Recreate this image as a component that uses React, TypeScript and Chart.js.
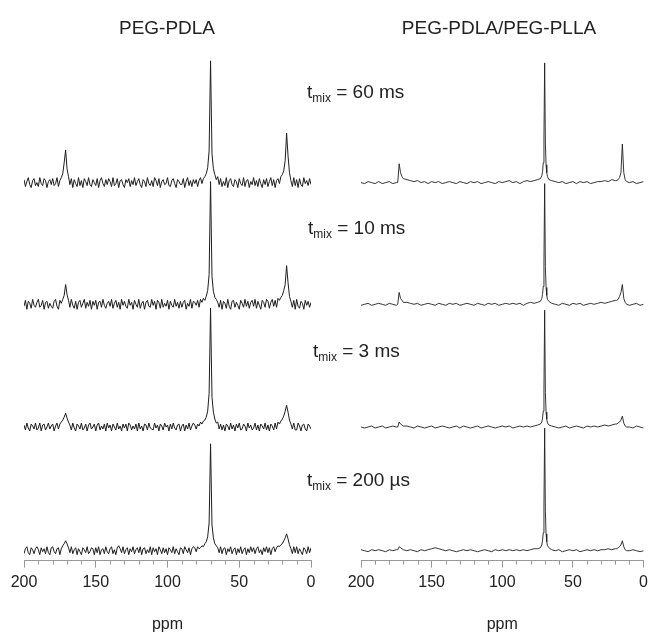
import React, { useEffect, useRef } from "react";
import { Chart, registerables } from "chart.js";

Chart.register(...registerables);

// ---------- DATA ----------
const panelTitles = ["PEG-PDLA", "PEG-PDLA/PEG-PLLA"];
const tmixLabels = ["60 ms", "10 ms", "3 ms", "200 \u00b5s"];
const majorTickValues = [200, 150, 100, 50, 0];
const minorTickValues = [190, 180, 170, 160, 140, 130, 120, 110, 90, 80, 70, 60, 40, 30, 20, 10];

// PEG-PDLA: sampled every 1 ppm, 200 -> 0
const ppmGridPdla = [
  200, 199, 198, 197, 196, 195, 194, 193, 192, 191,
  190, 189, 188, 187, 186, 185, 184, 183, 182, 181,
  180, 179, 178, 177, 176, 175, 174, 173, 172, 171,
  170, 169, 168, 167, 166, 165, 164, 163, 162, 161,
  160, 159, 158, 157, 156, 155, 154, 153, 152, 151,
  150, 149, 148, 147, 146, 145, 144, 143, 142, 141,
  140, 139, 138, 137, 136, 135, 134, 133, 132, 131,
  130, 129, 128, 127, 126, 125, 124, 123, 122, 121,
  120, 119, 118, 117, 116, 115, 114, 113, 112, 111,
  110, 109, 108, 107, 106, 105, 104, 103, 102, 101,
  100, 99, 98, 97, 96, 95, 94, 93, 92, 91,
  90, 89, 88, 87, 86, 85, 84, 83, 82, 81,
  80, 79, 78, 77, 76, 75, 74, 73, 72, 71,
  70, 69, 68, 67, 66, 65, 64, 63, 62, 61,
  60, 59, 58, 57, 56, 55, 54, 53, 52, 51,
  50, 49, 48, 47, 46, 45, 44, 43, 42, 41,
  40, 39, 38, 37, 36, 35, 34, 33, 32, 31,
  30, 29, 28, 27, 26, 25, 24, 23, 22, 21,
  20, 19, 18, 17, 16, 15, 14, 13, 12, 11,
  10, 9, 8, 7, 6, 5, 4, 3, 2, 1,
  0,
];

const pdla60 = [
  3, -4, 1, 5, -2, -5, 2, 4, -3, 0,
  -4, 5, -1, -3, 4, 2, -5, 1, 3, -2,
  4, -3, -1, 5, -4, 2, 5, 9, 20, 33,
  14, 6, -2, 4, -5, 3, -1, -4, 5, -3,
  2, -5, 4, 1, -3, 5, -2, -4, 3, 0,
  -3, 4, -5, 2, 5, -1, -4, 3, -2, 4,
  1, -4, 5, -3, -1, 4, -5, 2, 3, -2,
  -5, 3, 0, 4, -4, 2, -2, 5, -3, 1,
  4, -2, -5, 3, 1, -4, 5, -1, -3, 2,
  -4, 5, 2, -3, 4, -5, 1, 3, -2, -1,
  5, -3, -4, 2, 4, -1, -5, 3, 1, -2,
  -2, 4, -5, 1, 5, -3, 2, -4, 3, -1,
  3, -4, 2, 5, -1, 4, 6, 9, 15, 32,
  123, 29, 14, 8, 3, 6, -2, 4, -4, 1,
  -3, 5, -5, 2, 4, -2, -4, 3, 1, -5,
  4, -1, -3, 5, -4, 2, 3, -5, 1, -2,
  5, -3, 2, -4, 4, -1, -5, 3, -2, 4,
  -4, 1, 5, -3, 3, -5, 2, 4, -1, 6,
  8, 12, 22, 50, 27, 10, 2, -4, 5, -3,
  3, -5, 4, -2, -4, 5, -1, 2, -3, 4,
  -2,
];
const pdla10 = [
  -2, 4, -5, 3, 1, -4, 5, -1, -3, 2,
  5, -3, -1, 4, -5, 2, 3, -4, 1, -2,
  -4, 3, 5, -2, -5, 4, 1, 5, 9, 20,
  10, 4, -3, 5, -1, -4, 3, -5, 2, 4,
  -3, 1, 5, -4, 2, -2, 4, -5, 3, -1,
  4, -5, 2, 3, -3, 5, -1, -4, 1, 3,
  -2, 5, -4, 1, 4, -3, 2, -5, 5, -1,
  3, -2, -4, 5, -1, 2, -5, 4, 0, -3,
  5, -4, 1, 3, -5, 2, 4, -2, -3, 5,
  -1, 3, -5, 4, 2, -4, 5, -3, 1, -2,
  4, -5, 3, -1, -3, 5, -2, 2, -4, 3,
  -3, 2, 4, -5, 1, -2, 5, -4, 3, 2,
  -1, 4, -3, 5, 2, 6, 4, 8, 14, 30,
  124, 28, 13, 7, 5, 2, -3, 4, -5, 3,
  1, -4, 5, -2, -5, 3, 4, -3, 2, -1,
  -5, 4, 1, -3, 5, -2, 3, -4, 2, 4,
  -2, 5, -4, 3, -1, -5, 4, 2, -3, 5,
  3, -4, 2, 5, -2, 4, -3, 6, 4, 7,
  9, 14, 20, 39, 22, 8, 3, -3, 4, -5,
  5, -2, -4, 3, 1, -5, 4, -1, 3, -3,
  2,
];
const pdla3 = [
  2, -3, 4, -1, -4, 3, 1, -2, 4, -3,
  -1, 4, -4, 2, 3, -3, 0, 4, -2, 1,
  3, -4, 1, 4, -2, 3, 5, 7, 10, 14,
  9, 5, 2, -3, 4, -1, -4, 3, 1, -2,
  4, -3, -1, 3, -4, 2, 4, -2, 0, 3,
  -4, 2, 4, -3, 1, -2, 3, -4, 4, -1,
  2, -4, 3, 0, -3, 4, -2, 1, -4, 3,
  -1, 3, -4, 4, 2, -3, 1, -2, 3, -4,
  4, -2, 1, -4, 3, 2, -3, 4, -1, -2,
  -3, 4, -1, 2, -4, 3, 1, -3, 4, 0,
  2, -4, 3, -2, 4, -1, -3, 2, 3, -4,
  1, 3, -4, 2, -2, 4, -3, 1, 4, 2,
  -2, 3, 1, 5, 3, 6, 7, 10, 16, 34,
  120, 30, 15, 8, 4, 5, -2, 3, -3, 2,
  -4, 3, 1, -3, 4, -2, 2, -4, 3, -1,
  4, -3, -2, 3, 1, -4, 4, -1, 2, -3,
  -1, 4, -3, 2, -4, 3, 1, -2, 4, -3,
  2, -4, 3, 1, -3, 4, -2, 5, 3, 6,
  8, 11, 16, 22, 15, 7, 3, -2, 4, -3,
  -3, 4, 1, -4, 2, 3, -2, -4, 3, 1,
  -2,
];
const pdla200us = [
  -3, 2, 4, -2, -4, 3, 1, -3, 2, 4,
  1, -4, 3, -1, 2, -3, 4, -2, -4, 3,
  4, -1, -3, 2, 3, -4, 2, 5, 7, 10,
  7, 3, -2, 4, -3, 1, 3, -4, 2, -1,
  -4, 3, 1, -2, 4, -3, -1, 3, 2, -4,
  3, -2, 4, -4, 1, 2, -3, 4, -1, -3,
  2, 4, -3, 1, -4, 3, 5, 2, -2, 4,
  -3, 1, 3, -4, 2, -1, 4, -3, 1, 3,
  -2, 4, -4, 2, 3, -3, 1, -2, 4, -4,
  3, -1, 2, -4, 4, 1, -3, 3, -2, 2,
  -4, 3, 1, -2, 4, -3, 2, -1, -4, 3,
  2, -3, 4, 1, -2, 3, -4, 2, 4, 3,
  -1, 4, 2, 3, 5, 4, 7, 9, 14, 28,
  108, 26, 13, 7, 5, 3, -2, 4, -3, 2,
  3, -4, 2, -1, 4, -3, 1, 3, -4, 2,
  -2, 4, -3, 1, 3, -4, 2, -2, 4, -1,
  3, -3, 2, 4, -2, 1, -4, 3, -1, 4,
  -2, 3, -4, 2, 4, -1, 3, 5, 4, 6,
  7, 10, 13, 17, 12, 6, 2, -3, 4, -2,
  4, -3, 2, -1, -4, 3, 1, -3, 4, -2,
  3,
];

// PEG-PDLA/PEG-PLLA: sampled positions (ppm)
const ppmGridBlend = [
  200, 197.5, 195, 192.5, 190, 187.5, 185, 182.5, 180, 177.5, 175,
  174, 173, 172, 171, 170,
  167.5, 165, 162.5, 160, 157.5, 155, 152.5, 150, 147.5, 145,
  142.5, 140, 137.5, 135, 132.5, 130, 127.5, 125, 122.5, 120,
  117.5, 115, 112.5, 110, 107.5, 105, 102.5, 100, 97.5, 95,
  92.5, 90, 87.5, 85, 82.5, 80, 77.5, 75,
  73, 72, 71.5, 71, 70.5, 70, 69.5, 69, 68.5, 68, 67,
  65, 62.5, 60, 57.5, 55, 52.5, 50, 47.5, 45, 42.5,
  40, 37.5, 35, 32.5, 30, 27.5, 25, 22.5, 20,
  19, 18, 17, 16, 15, 14, 13, 12,
  10, 7.5, 5, 2.5, 0,
];

const blend60 = [
  0, -1, 1, 0, -1, 1, -1, 0, 1, -1, 0,
  0, 19, 10, 6, 4,
  3, 2, 1, 2, 0, 1, -1, 1, 0, 1, -1, 0, 1, 0, -1, 1, 0, -1, 1, 0, 1, -1, 0, 1, 0, -1, 1, 0, 1, 2, 0, 1, -1, 1, 2, 1, 2, 3,
  4, 7, 11, 20, 45, 121, 40, 18, 10, 6, 3,
  2, 1, 0, 1, -1, 0, 1, -1, 1, 0, 1, -1, 0, 1, 1, 2, 1, 3, 2,
  2, 3, 5, 10, 39, 10, 3, 1,
  0, 1, -1, 0, 1,
];
const blend10 = [
  -1, 0, 1, -1, 0, 1, 0, -1, 1, 0, -1,
  0, 12, 6, 4, 2,
  2, 1, 0, 1, -1, 0, 1, 0, -1, 1, 0, -1, 1, 0, 1, -1, 0, 1, 0, -1, 1, 0, -1, 1, 0, 1, -1, 0, 1, 0, 1, 0, 1, -1, 1, 2, 1, 2,
  3, 6, 10, 18, 42, 122, 38, 17, 9, 5, 3,
  1, 0, -1, 1, 0, -1, 1, 0, 1, -1, 0, 1, 0, 1, 2, 1, 2, 3, 4,
  4, 5, 8, 12, 20, 6, 2, 0,
  -1, 0, 1, -1, 0,
];
const blend3 = [
  0, -1, 0, 1, -1, 0, 1, -1, 0, 1, 0,
  0, 5, 3, 2, 1,
  1, 0, -1, 1, 0, -1, 0, 1, -1, 0, 1, 0, -1, 0, 1, -1, 1, 0, -1, 0, 1, -1, 0, 1, 0, -1, 0, 1, 0, 1, -1, 0, 1, 0, 1, 0, 1, 2,
  3, 5, 9, 16, 38, 118, 35, 15, 8, 4, 2,
  1, 0, -1, 0, 1, -1, 0, 1, 0, -1, 1, 0, 1, 0, 1, 2, 1, 2, 3,
  3, 4, 5, 7, 11, 4, 1, 0,
  0, -1, 1, 0, -1,
];
const blend200us = [
  1, 0, -1, 1, 0, 1, 0, -1, 1, 0, 1,
  1, 4, 3, 2, 1,
  0, 1, 0, -1, 1, 0, 1, 2, 3, 2, 1, 0, 1, 0, -1, 0, 1, 0, 1, 0, -1, 0, 1, 0, -1, 1, 0, 1, 0, 1, 0, 1, 0, 1, 0, 1, 2, 2,
  3, 6, 10, 18, 44, 124, 40, 17, 9, 5, 3,
  1, 0, 1, -1, 0, 1, 0, 1, -1, 0, 1, 0, 1, 0, 1, 1, 2, 1, 2,
  2, 3, 4, 6, 10, 4, 1, 0,
  0, 1, 0, -1, 0,
];

const pdlaSpectra = [pdla60, pdla10, pdla3, pdla200us];
const blendSpectra = [blend60, blend10, blend3, blend200us];

// ---------- LAYOUT / STYLE ----------
const FONT = '"Liberation Sans", Arial, Helvetica, sans-serif';
const stackOffsets = [382, 259, 135, 10];
const CANVAS_H = 641;
const PAD_TOP = 50;
const AXIS_BOTTOM = 566;

const minorTicksPlugin = {
  id: "minorTicks",
  afterDraw(chart: any) {
    const xs = chart.scales.x;
    const ctx = chart.ctx;
    const b = chart.chartArea.bottom;
    ctx.save();
    ctx.strokeStyle = "#9a9a9a";
    ctx.lineWidth = 1;
    for (const v of minorTickValues) {
      const px = Math.round(xs.getPixelForValue(v)) + 0.5;
      ctx.beginPath();
      ctx.moveTo(px, b);
      ctx.lineTo(px, b + 4);
      ctx.stroke();
    }
    ctx.restore();
  },
};

function Panel(props: {
  grid: number[];
  spectra: number[][];
  left: number;
  width: number;
  padLeft: number;
  padRight: number;
  lineWidth: number;
}) {
  const ref = useRef<HTMLCanvasElement | null>(null);
  useEffect(() => {
    if (!ref.current) return;
    const chart = new Chart(ref.current, {
      type: "line",
      data: {
        datasets: props.spectra.map((vals, i) => ({
          data: props.grid.map((p, j) => ({ x: p, y: vals[j] + stackOffsets[i] })),
          borderColor: "#1e1e1e",
          borderWidth: props.lineWidth,
          pointRadius: 0,
          tension: 0,
          fill: false,
        })),
      },
      options: {
        animation: false,
        responsive: false,
        maintainAspectRatio: false,
        events: [],
        layout: { padding: { left: props.padLeft, right: props.padRight, top: PAD_TOP, bottom: 4 } },
        plugins: { legend: { display: false }, tooltip: { enabled: false }, title: { display: false } },
        scales: {
          x: {
            type: "linear",
            reverse: true,
            min: 0,
            max: 200,
            afterBuildTicks: (axis: any) => {
              axis.ticks = majorTickValues.map((v) => ({ value: v }));
            },
            ticks: {
              font: { family: FONT, size: 16 },
              color: "#222",
              padding: 5,
              maxRotation: 0,
              autoSkip: false,
            },
            grid: { display: true, drawOnChartArea: false, drawTicks: true, tickLength: 7, color: "#9a9a9a" },
            border: { display: true, color: "#9a9a9a", width: 1 },
            title: {
              display: true,
              text: "ppm",
              font: { family: FONT, size: 16 },
              color: "#222",
              padding: { top: 18, bottom: 3 },
            },
          },
          y: { display: false, min: 0, max: AXIS_BOTTOM - PAD_TOP },
        },
      },
      plugins: [minorTicksPlugin],
    } as any);
    return () => chart.destroy();
  }, []);
  return (
    <canvas
      ref={ref}
      width={props.width}
      height={CANVAS_H}
      style={{ position: "absolute", left: props.left, top: 0, width: props.width, height: CANVAS_H }}
    />
  );
}

const titleCenters = [167, 499];
const tmixPos = [
  { x: 307, y: 82 },
  { x: 308, y: 218 },
  { x: 313, y: 341 },
  { x: 307, y: 470 },
];

export default function App() {
  return (
    <div style={{ position: "absolute", left: 0, top: 0, width: 653, height: 633, background: "#fff", overflow: "hidden" }}>
      <Panel grid={ppmGridPdla} spectra={pdlaSpectra} left={0} width={330} padLeft={24} padRight={19} lineWidth={1} />
      <Panel grid={ppmGridBlend} spectra={blendSpectra} left={330} width={323} padLeft={31} padRight={6} lineWidth={0.9} />
      {panelTitles.map((t, i) => (
        <div
          key={t}
          style={{
            position: "absolute",
            left: titleCenters[i],
            top: 18,
            transform: "translateX(-50%)",
            font: `19px ${FONT}`,
            lineHeight: "20px",
            color: "#222",
            whiteSpace: "nowrap",
          }}
        >
          {t}
        </div>
      ))}
      {tmixLabels.map((t, i) => (
        <div
          key={t}
          style={{
            position: "absolute",
            left: tmixPos[i].x,
            top: tmixPos[i].y,
            font: `19px ${FONT}`,
            lineHeight: "20px",
            color: "#222",
            whiteSpace: "nowrap",
          }}
        >
          t<span style={{ fontSize: 12, position: "relative", top: 4 }}>mix</span> = {t}
        </div>
      ))}
    </div>
  );
}
